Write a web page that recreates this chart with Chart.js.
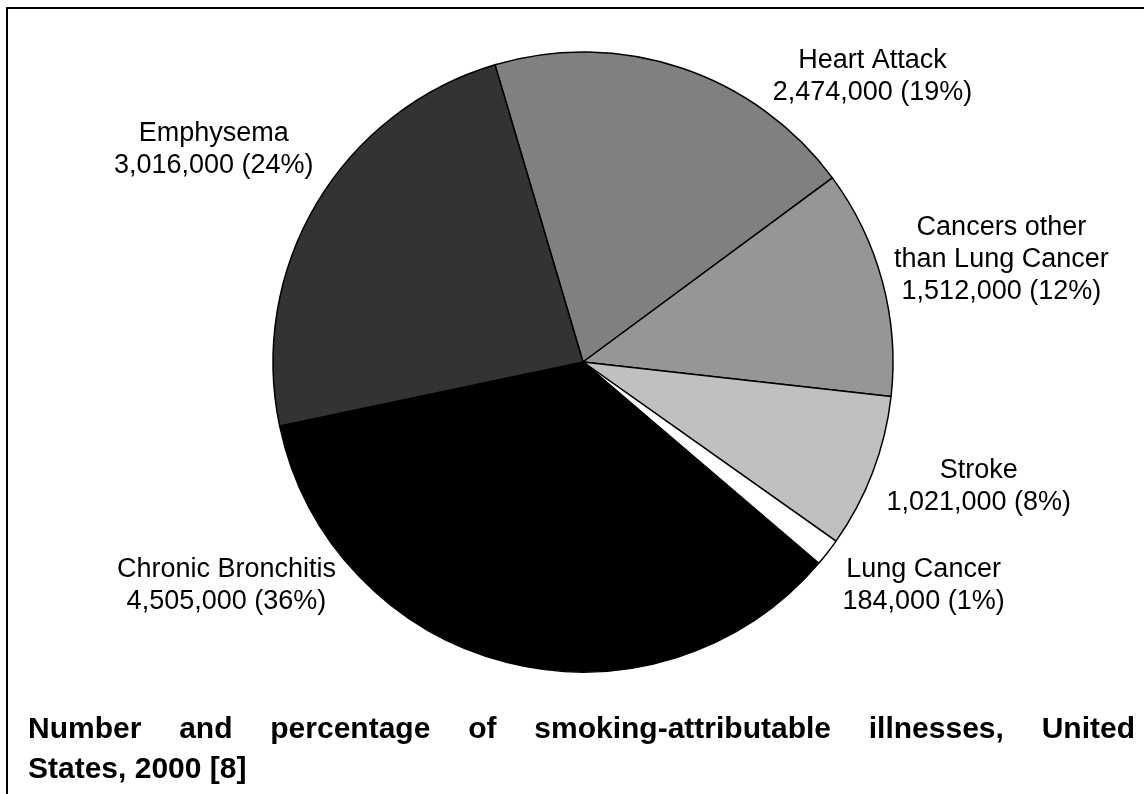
<!DOCTYPE html>
<html>
<head>
<meta charset="utf-8">
<script src="https://cdn.jsdelivr.net/npm/chart.js@4/dist/chart.umd.min.js"></script>
<style>
  html, body { margin: 0; padding: 0; background: #fff; }
  #wrap { position: relative; width: 1144px; height: 794px; overflow: hidden; }
  #frame { position: absolute; left: 6px; top: 7px; width: 1200px; height: 900px;
           border-top: 2px solid #000; border-left: 2px solid #000; }
  canvas { position: absolute; left: 0; top: 0; }
</style>
</head>
<body>
<div id="wrap">
  <div id="frame"></div>
  <canvas id="myChart" width="1144" height="794"></canvas>
</div>
<script>
// illnesses, clockwise from the top
const categories = [
  ['Heart Attack'],
  ['Cancers other', 'than Lung Cancer'],
  ['Stroke'],
  ['Lung Cancer'],
  ['Chronic Bronchitis'],
  ['Emphysema']
];
const cases = [2474000, 1512000, 1021000, 184000, 4505000, 3016000];
const percents = [19, 12, 8, 1, 36, 24];
const sliceColors = ['#808080', '#969696', '#c0c0c0', '#ffffff', '#000000', '#333333'];

const titleLines = [
  'Number and percentage of smoking-attributable illnesses, United',
  'States, 2000 [8]'
];

// where each label sits, relative to the outer edge at the middle of its slice
const labelOffsets = [
  { dx: 191, dy: 0 },
  { dx: 119, dy: -47 },
  { dx: 106, dy: 6 },
  { dx: 96, dy: 25 },
  { dx: -280, dy: -85 },
  { dx: -103, dy: -62 }
];

const sliceLabels = {
  id: 'sliceLabels',
  afterDatasetsDraw(chart) {
    const ctx = chart.ctx;
    const arcs = chart.getDatasetMeta(0).data;
    ctx.save();
    ctx.fillStyle = '#000';
    ctx.font = '27px "Liberation Sans", Arial, sans-serif';
    ctx.textAlign = 'center';
    ctx.textBaseline = 'alphabetic';
    arcs.forEach((arc, i) => {
      const mid = (arc.startAngle + arc.endAngle) / 2;
      const ax = arc.x + Math.cos(mid) * arc.outerRadius;
      const ay = arc.y + Math.sin(mid) * arc.outerRadius;
      const x = ax + labelOffsets[i].dx;
      let y = ay + labelOffsets[i].dy;
      const lines = categories[i].concat([cases[i].toLocaleString('en-US') + ' (' + percents[i] + '%)']);
      lines.forEach(line => {
        ctx.fillText(line, x, y);
        y += 32;
      });
    });
    ctx.restore();
  }
};

const justifiedTitle = {
  id: 'justifiedTitle',
  afterDraw(chart) {
    const ctx = chart.ctx;
    const left = 28, right = 1135;
    ctx.save();
    ctx.fillStyle = '#000';
    ctx.font = 'bold 30px "Liberation Sans", Arial, sans-serif';
    ctx.textBaseline = 'alphabetic';
    ctx.textAlign = 'left';
    // first line is justified, last line is left aligned
    const words = titleLines[0].split(' ');
    const total = words.reduce((s, w) => s + ctx.measureText(w).width, 0);
    const gap = (right - left - total) / (words.length - 1);
    let x = left;
    words.forEach(w => {
      ctx.fillText(w, x, 738);
      x += ctx.measureText(w).width + gap;
    });
    ctx.fillText(titleLines[1], left, 778);
    ctx.restore();
  }
};

const data = {
  labels: categories,
  datasets: [{
    data: cases,
    backgroundColor: sliceColors,
    borderColor: '#000',
    borderWidth: 1.5,
    hoverOffset: 0
  }]
};

const config = {
  type: 'pie',
  data: data,
  options: {
    responsive: false,
    animation: false,
    rotation: -16.5,
    radius: 310,
    layout: { padding: { left: 22, right: 0, top: 0, bottom: 70 } },
    plugins: {
      legend: { display: false },
      tooltip: { enabled: false }
    }
  },
  plugins: [sliceLabels, justifiedTitle]
};

const myChart = new Chart(document.getElementById('myChart'), config);
</script>
</body>
</html>
